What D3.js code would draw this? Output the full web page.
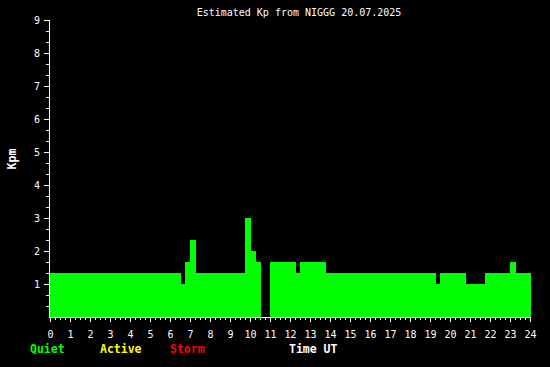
<!DOCTYPE html>
<html>
<head>
<meta charset="utf-8">
<script src="https://cdn.jsdelivr.net/npm/d3@7"></script>
<style>
  html, body { margin: 0; padding: 0; background: #000; }
  svg { display: block; }
</style>
</head>
<body>
<script>
// ---- data ----
const title = "Estimated Kp from NIGGG 20.07.2025";
// step segments: start hour of each interval (end = next start, last = 24)
const segStart = [0, 6.5, 6.75, 7.0, 7.25, 9.75, 10.0, 10.25, 10.5, 11.0, 12.25, 12.5, 13.75, 19.25, 19.5, 20.75, 21.75, 23.0, 23.25];
const kpmValues = [1.333, 1.0, 1.667, 2.333, 1.333, 3.0, 2.0, 1.667, 0, 1.667, 1.333, 1.667, 1.333, 1.0, 1.333, 1.0, 1.333, 1.667, 1.333];
const dayEnd = 24;
const yTicks = [1, 2, 3, 4, 5, 6, 7, 8, 9];
const xTicks = d3.range(0, 25, 1);
const legendLabels = ["Quiet", "Active", "Storm"];
const legendColors = ["#00ff00", "#ffff00", "#ff0000"];
const xTitle = "Time UT";
const yTitle = "Kpm";

// ---- layout ----
const W = 550, H = 367;
const x0 = 50, x1 = 530, yTop = 20, yBot = 317;
const mono = "'DejaVu Sans Mono', 'Liberation Mono', monospace";

const svg = d3.select("body").append("svg")
  .attr("width", W).attr("height", H)
  .style("background", "#000");

const x = d3.scaleLinear().domain([0, 24]).range([x0, x1]);
const y = d3.scaleLinear().domain([0, 9]).range([yBot, yTop]);

// bars
const segs = segStart.map((s, i) => ({
  s, e: i < segStart.length - 1 ? segStart[i + 1] : dayEnd, v: kpmValues[i]
}));
svg.append("g").attr("shape-rendering", "crispEdges")
  .selectAll("rect").data(segs.filter(d => d.v > 0)).join("rect")
  .attr("x", d => Math.round(x(d.s)))
  .attr("width", d => Math.round(x(d.e)) - Math.round(x(d.s)) + 1)
  .attr("y", d => Math.round(y(d.v)))
  .attr("height", d => yBot - Math.round(y(d.v)))
  .attr("fill", "#00ff00");

// y axis (major)
const gy = svg.append("g").attr("transform", `translate(${x0 - 1},0)`)
  .call(d3.axisLeft(y).tickValues(yTicks).tickSize(5).tickPadding(4).tickFormat(d3.format("d")));
gy.attr("shape-rendering", "crispEdges");
gy.select(".domain").remove();
gy.selectAll(".tick line").attr("stroke", "#fff");
gy.selectAll(".tick text").attr("fill", "#fff")
  .style("font-family", mono).style("font-size", "10px")
  .attr("dy", "0.35em");
// y minor ticks (thirds)
const yMinor = d3.range(1, 27).map(i => i / 3).filter(v => Math.abs(v - Math.round(v)) > 0.01);
const gym = svg.append("g").attr("transform", `translate(${x0 - 1},0)`)
  .call(d3.axisLeft(y).tickValues(yMinor).tickSize(3).tickFormat(""));
gym.attr("shape-rendering", "crispEdges");
gym.select(".domain").remove();
gym.selectAll(".tick line").attr("stroke", "#fff");
// y axis line
svg.append("line").attr("x1", x0 - 0.5).attr("x2", x0 - 0.5).attr("y1", yTop).attr("y2", yBot + 1)
  .attr("stroke", "#fff").attr("shape-rendering", "crispEdges");

// x axis (major)
const gx = svg.append("g").attr("transform", `translate(0,${yBot})`)
  .call(d3.axisBottom(x).tickValues(xTicks).tickSize(5).tickPadding(9).tickFormat(d3.format("d")));
gx.attr("shape-rendering", "crispEdges");
gx.select(".domain").remove();
gx.selectAll(".tick line").attr("stroke", "#fff");
gx.selectAll(".tick text").attr("fill", "#fff")
  .style("font-family", mono).style("font-size", "10px");
// x minor ticks (15 min)
const xMinor = d3.range(0, 97).map(i => i / 4).filter(v => Math.abs(v - Math.round(v)) > 0.01);
const gxm = svg.append("g").attr("transform", `translate(0,${yBot})`)
  .call(d3.axisBottom(x).tickValues(xMinor).tickSize(3).tickFormat(""));
gxm.attr("shape-rendering", "crispEdges");
gxm.select(".domain").remove();
gxm.selectAll(".tick line").attr("stroke", "#fff");
// x axis line
svg.append("line").attr("x1", x0).attr("x2", x1 + 1).attr("y1", yBot + 0.5).attr("y2", yBot + 0.5)
  .attr("stroke", "#fff").attr("shape-rendering", "crispEdges");

// title
svg.append("text").attr("x", 299).attr("y", 16)
  .attr("text-anchor", "middle").attr("fill", "#fff")
  .style("font-family", mono).style("font-size", "10px")
  .text(title);

// y title
svg.append("text").attr("transform", "translate(16,159) rotate(-90)")
  .attr("text-anchor", "middle").attr("fill", "#fff")
  .style("font-family", mono).style("font-size", "11.5px").style("font-weight", "bold")
  .text(yTitle);

// legend
const legX = [30, 100, 170];
legendLabels.forEach((t, i) => {
  svg.append("text").attr("x", legX[i]).attr("y", 353)
    .attr("fill", legendColors[i])
    .style("font-family", mono).style("font-size", "11.5px").style("font-weight", "bold")
    .text(t);
});
svg.append("text").attr("x", 289).attr("y", 353)
  .attr("fill", "#fff")
  .style("font-family", mono).style("font-size", "11.5px").style("font-weight", "bold")
  .text(xTitle);
</script>
</body>
</html>
